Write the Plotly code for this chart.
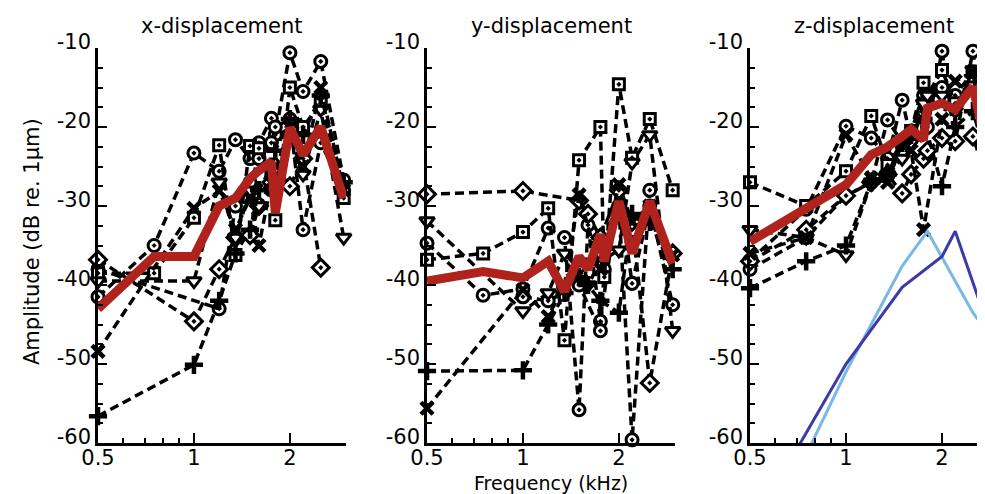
import math
import plotly.graph_objects as go

# ---------------- data ----------------
FREQ = [0.5, 0.75, 1.0, 1.2, 1.35, 1.5, 1.6, 1.75, 1.8, 2.0, 2.2, 2.5, 2.95]
N = None

# x-displacement
X_CIRCLE_A = [-41.5, -35.0, -23.3, -25.6, -21.6, -24.0, -22.0, -18.9, -21.0, -10.6, -15.5, -11.7, -26.7]
X_CIRCLE_B = [-38.0, N, N, -43.0, -30.0, -27.0, -24.0, -22.0, -20.0, -19.0, -33.0, -22.0, -28.0]
X_SQUARE = [-38.5, -38.5, -31.5, -22.3, -36.2, -22.4, -22.7, -26.0, -31.8, -15.0, -20.0, -17.0, -29.0]
X_DIAMOND = [-36.8, N, -44.6, -38.0, -34.0, -33.7, -30.0, -27.0, -25.0, -27.5, -24.0, -37.8, N]
X_TRIANGLE = [-39.5, N, -39.5, -27.0, -34.0, -28.0, -30.0, -28.0, N, -21.0, -26.0, -17.8, -34.0]
X_XMARK = [-48.4, N, -30.3, -28.1, -33.0, -29.0, -35.0, -27.0, N, -20.0, -25.0, -15.0, -28.0]
X_CROSS = [-56.6, N, -50.1, -42.0, -36.0, -33.0, -28.0, -25.0, -23.0, -19.0, -21.0, -16.0, -27.0]
X_MEAN = [-43.0, -36.4, -36.4, -30.0, -29.0, -26.5, -25.5, -24.4, -30.9, -20.1, -23.5, -20.0, -29.0]

# y-displacement
Y_CIRCLE_A = [-34.7, -41.3, -40.5, -32.8, -34.0, -55.8, -32.4, -44.6, N, -28.0, -39.8, -30.0, -42.5]
Y_CIRCLE_B = [N, N, -41.5, -42.0, N, -40.0, N, -45.8, -38.0, -30.0, -59.6, -28.0, N]
Y_SQUARE = [-36.8, -36.0, -33.3, -30.3, -47.0, -24.2, N, -20.0, -39.0, -14.6, -23.9, -19.0, -28.0]
Y_DIAMOND = [-28.5, N, -28.1, N, N, -29.3, -31.0, -34.0, N, -28.0, -32.0, -52.4, -36.0]
Y_TRIANGLE = [-31.9, N, -43.3, -41.0, -36.0, -38.0, -40.0, -37.0, N, -35.6, -24.5, -21.0, -45.8]
Y_XMARK = [-55.6, N, -40.6, -44.0, -40.0, -28.6, N, -38.0, N, -27.3, -32.0, -30.0, -36.2]
Y_CROSS = [-50.9, N, -50.8, -45.0, -41.0, -39.0, -40.0, -42.0, N, -43.5, -31.0, -32.0, -38.0]
Y_MEAN = [-39.5, -38.3, -39.1, -37.0, -40.8, -36.4, -38.0, -33.6, -37.0, -29.4, -36.0, -29.4, -37.3]

# z-displacement
Z_CIRCLE_A = [-36.9, -30.4, -19.9, -21.4, -24.0, -16.6, -21.6, -18.0, -20.0, -10.4, -21.8, -10.4, -30.0]
Z_CIRCLE_B = [-38.0, -34.0, -28.7, -27.0, -19.1, -22.0, -20.5, -16.0, -17.0, -15.0, -16.0, -13.0, -32.0]
Z_SQUARE = [-27.0, -30.0, -25.6, -18.6, -24.8, -22.0, -20.5, -14.4, -16.0, -12.8, -17.0, -15.0, -31.0]
Z_DIAMOND = [-37.0, -33.0, -28.7, -27.0, -26.0, -28.4, -26.0, -24.0, -23.0, -21.4, -21.8, -21.2, -30.0]
Z_TRIANGLE = [-33.0, -34.0, -36.2, -27.0, -26.0, -24.0, -22.0, -17.0, -16.0, -16.0, -18.0, -12.8, -34.0]
Z_XMARK = [-36.0, -34.0, -21.0, -26.5, -27.0, -22.0, -23.0, -33.0, N, -19.0, -14.2, -13.0, -30.0]
Z_CROSS = [-40.4, -37.0, -35.0, -27.0, -26.0, -22.0, -21.0, -19.0, N, -27.5, -20.0, -18.0, -28.0]
Z_MEAN = [-34.5, -30.3, -27.3, -23.5, -22.5, -21.2, -20.3, -21.6, -17.6, -17.0, -17.8, -14.9, -28.0]

# model curves (z only)
LIGHT_F = [0.7, 1.0, 1.5, 1.8, 2.5, 2.95]
LIGHT_V = [-64.0, -51.0, -37.6, -33.2, -43.5, -47.5]
DARK_F = [0.6, 1.0, 1.5, 2.0, 2.2, 2.95]
DARK_V = [-65.5, -50.0, -40.3, -36.4, -33.2, -48.1]

TITLES = ["x-displacement", "y-displacement", "z-displacement"]
X_TICKS = [0.5, 1, 2, 3]
X_TICK_TEXT = ["0.5", "1", "2", ""]
X_MINOR = [0.6, 0.7, 0.8, 0.9]
Y_TICKS = [-60, -50, -40, -30, -20, -10]

# ---------------- styling ----------------
W, H = 985, 494
FONT = "DejaVu Sans"
FS = 21
DASH = "9px,5px"

MARKERS = {
    "circle_a": dict(symbol="circle-dot", size=12, color="white", line=dict(color="black", width=3)),
    "circle_b": dict(symbol="circle-dot", size=12, color="white", line=dict(color="black", width=3)),
    "square": dict(symbol="square-dot", size=11, color="white", line=dict(color="black", width=3)),
    "diamond": dict(symbol="diamond-dot", size=13, color="white", line=dict(color="black", width=3)),
    "triangle": dict(symbol="triangle-down", size=13, color="white", line=dict(color="black", width=3)),
    "xmark": dict(symbol="x-thin", size=12, color="black", line=dict(color="black", width=4.5)),
    "cross": dict(symbol="cross-thin", size=13, color="black", line=dict(color="black", width=4.5)),
}

PANELS = [
    dict(series={"circle_a": X_CIRCLE_A, "circle_b": X_CIRCLE_B, "square": X_SQUARE, "diamond": X_DIAMOND,
                 "triangle": X_TRIANGLE, "xmark": X_XMARK, "cross": X_CROSS}, mean=X_MEAN),
    dict(series={"circle_a": Y_CIRCLE_A, "circle_b": Y_CIRCLE_B, "square": Y_SQUARE, "diamond": Y_DIAMOND,
                 "triangle": Y_TRIANGLE, "xmark": Y_XMARK, "cross": Y_CROSS}, mean=Y_MEAN),
    dict(series={"circle_a": Z_CIRCLE_A, "circle_b": Z_CIRCLE_B, "square": Z_SQUARE, "diamond": Z_DIAMOND,
                 "triangle": Z_TRIANGLE, "xmark": Z_XMARK, "cross": Z_CROSS}, mean=Z_MEAN),
]

# panel pixel geometry (left edge of axis, right edge)
PX = [(90, 338), (419, 667), (742, 985)]
X_MAX = [3.0, 3.0, 2.89]
Y_TOP, Y_BOT = 40, 435

fig = go.Figure()

for i, panel in enumerate(PANELS):
    xa = "x" if i == 0 else f"x{i+1}"
    ya = "y" if i == 0 else f"y{i+1}"
    for key, vals in panel["series"].items():
        fig.add_trace(go.Scatter(
            x=FREQ, y=vals, xaxis=xa, yaxis=ya, mode="lines+markers",
            connectgaps=True, cliponaxis=False,
            line=dict(color="black", width=3.5, dash=DASH),
            marker=MARKERS[key], hoverinfo="skip"))
    fig.add_trace(go.Scatter(
        x=FREQ, y=panel["mean"], xaxis=xa, yaxis=ya, mode="lines",
        line=dict(color="#b0231c", width=9), hoverinfo="skip"))

fig.add_trace(go.Scatter(x=LIGHT_F, y=LIGHT_V, xaxis="x3", yaxis="y3", mode="lines",
                         line=dict(color="#78b8e6", width=3), hoverinfo="skip"))
fig.add_trace(go.Scatter(x=DARK_F, y=DARK_V, xaxis="x3", yaxis="y3", mode="lines",
                         line=dict(color="#3b3aa6", width=3), hoverinfo="skip"))

y_minor = [v + d for v in Y_TICKS[:-1] for d in (2.5, 5.0, 7.5)]
layout = dict(
    width=W, height=H, margin=dict(l=0, r=0, t=0, b=0),
    paper_bgcolor="white", plot_bgcolor="white", showlegend=False,
    font=dict(family=FONT, size=FS, color="black"),
)
ydom = [(H - Y_BOT) / H, (H - Y_TOP) / H]
for i in range(3):
    sfx = "" if i == 0 else str(i + 1)
    x0, x1 = PX[i]
    layout["xaxis" + sfx] = dict(
        type="log", domain=[x0 / W, min(x1 / W, 1.0)],
        range=[math.log10(0.5), math.log10(X_MAX[i])],
        anchor="y" + sfx, showline=True, linecolor="black", linewidth=2.5,
        ticks="inside", ticklen=10, tickwidth=2, tickcolor="black",
        tickmode="array", tickvals=X_TICKS, ticktext=X_TICK_TEXT,
        ticklabelstandoff=-6,
        minor=dict(tickmode="array", tickvals=X_MINOR, ticks="inside", ticklen=5,
                   tickwidth=2, tickcolor="black", showgrid=False),
        showgrid=False, zeroline=False, automargin=False,
        tickfont=dict(family=FONT, size=FS, color="black"),
    )
    layout["yaxis" + sfx] = dict(
        domain=ydom, range=[-60, -10], anchor="x" + sfx,
        showline=True, linecolor="black", linewidth=2.5,
        ticks="inside", ticklen=9, tickwidth=2, tickcolor="black",
        tickmode="array", tickvals=Y_TICKS, ticktext=[str(v) for v in Y_TICKS],
        ticklabelshift=-6,
        minor=dict(tickmode="array", tickvals=y_minor, ticks="inside", ticklen=5,
                   tickwidth=2, tickcolor="black", showgrid=False),
        showgrid=False, zeroline=False, automargin=False,
        tickfont=dict(family=FONT, size=FS, color="black"),
    )
fig.update_layout(**layout)

ann = []
for i, t in enumerate(TITLES):
    x0 = PX[i][0]
    cx = x0 + 124
    ann.append(dict(text=t, x=cx / W, y=(H - 18) / H, xref="paper", yref="paper",
                    showarrow=False, xanchor="center", yanchor="middle",
                    font=dict(family=FONT, size=FS, color="black")))
ann.append(dict(text="Frequency (kHz)", x=543 / W, y=(H - 475) / H, xref="paper", yref="paper",
                showarrow=False, xanchor="center", yanchor="middle",
                font=dict(family=FONT, size=19, color="black")))
ann.append(dict(text="Amplitude (dB re. 1\u03bcm)", x=24 / W, y=(H - 234) / H, xref="paper", yref="paper",
                showarrow=False, xanchor="center", yanchor="middle", textangle=-90,
                font=dict(family=FONT, size=FS, color="black")))
fig.update_layout(annotations=ann)

fig.write_html("out.html")
